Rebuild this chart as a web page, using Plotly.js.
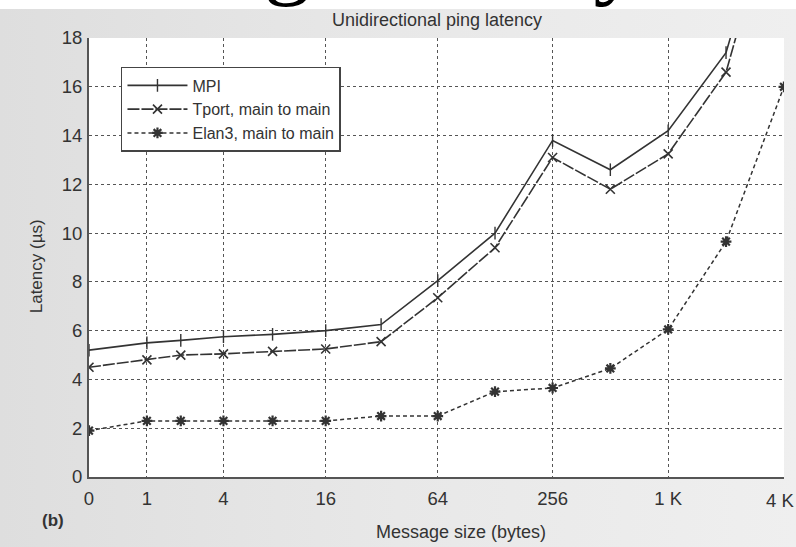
<!DOCTYPE html>
<html>
<head>
<meta charset="utf-8">
<script src="https://cdn.plot.ly/plotly-3.0.1.min.js"></script>
<style>
  html, body { margin:0; padding:0; background:#ffffff; overflow:hidden; }
  #wrap { position:relative; width:796px; height:547px; overflow:hidden; background:#ffffff; }
  #slidebox { position:absolute; left:0; top:0; width:796px; height:9px; overflow:hidden; z-index:1; }
  #slide { position:absolute; left:137px; top:-92px; font-family:"Liberation Serif","Times New Roman",serif; font-size:95px; color:#000; white-space:nowrap; line-height:1; }
  #panel { position:absolute; left:0; top:9px; width:796px; height:538px; z-index:2; background:linear-gradient(to right,#dedede 0%,#e8e8e8 50%,#efefef 100%); }
  #chart { position:absolute; left:0; top:0; width:796px; height:547px; z-index:3; }
</style>
</head>
<body>
<div id="wrap">
  <div id="slidebox"><div id="slide">Ping Latency</div></div>
  <div id="panel"></div>
  <div id="chart"></div>
</div>
<script>
// Message sizes (bytes) and latencies (µs)
const sizes = [0, 1, 2, 4, 8, 16, 32, 64, 128, 256, 512, 1024, 2048, 4096];
const mpi   = [5.2, 5.5, 5.6, 5.75, 5.85, 6.0, 6.25, 8.05, 10.0, 13.8, 12.6, 14.2, 17.4, 25.5];
const tport = [4.5, 4.8, 5.0, 5.05, 5.15, 5.25, 5.55, 7.35, 9.4, 13.1, 11.8, 13.25, 16.6, 25.0];
const elan3 = [1.9, 2.3, 2.3, 2.3, 2.3, 2.3, 2.5, 2.5, 3.5, 3.65, 4.45, 6.05, 9.65, 16.0];
const seriesNames = ["MPI", "Tport, main to main", "Elan3, main to main"];
const tickSizes = [0, 1, 4, 16, 64, 256, 1024, 4096];
const tickLabels = ["0", "1", "4", "16", "64", "256", "1 K", "4 K"];
const yTicks = [0, 2, 4, 6, 8, 10, 12, 14, 16, 18];

// log axis of (size + 1) so that size 0 can be placed
const xs = sizes.map(s => s + 1);
const xt = tickSizes.map(s => s + 1);
// last label sits at the right edge: draw it as an annotation pulled slightly inward
const lastIdx = tickLabels.length - 1;
const axisLabels = tickLabels.map((t, i) => (i === lastIdx ? '' : t));

const FONT = '"Liberation Sans Narrow","Arial Narrow","Liberation Sans",Arial,sans-serif';
const INK = '#333333';

const traces = [
  { x: xs, y: mpi, name: seriesNames[0], mode: 'lines+markers',
    line: { color: INK, width: 1.6 },
    marker: { symbol: 'line-ns-open', size: 9, color: INK, line: { color: INK, width: 1.4 } } },
  { x: xs, y: tport, name: seriesNames[1], mode: 'lines+markers',
    line: { color: INK, width: 1.6, dash: '12px,2px' },
    marker: { symbol: 'x-thin-open', size: 9, color: INK, line: { color: INK, width: 1.6 } } },
  { x: xs, y: elan3, name: seriesNames[2], mode: 'lines+markers',
    line: { color: INK, width: 1.5, dash: '4px,3px' },
    marker: { symbol: 'asterisk-open', size: 9, color: INK, line: { color: INK, width: 2.2 } } }
];

const layout = {
  width: 796, height: 547,
  margin: { l: 89, r: 12, t: 38, b: 70 },
  paper_bgcolor: 'rgba(0,0,0,0)',
  plot_bgcolor: '#ffffff',
  font: { family: FONT, color: INK, size: 18 },
  showlegend: true,
  legend: {
    x: 0.046, y: 0.934, xanchor: 'left', yanchor: 'top',
    bgcolor: '#ffffff', bordercolor: '#444444', borderwidth: 1.5,
    font: { family: FONT, size: 16, color: INK },
    itemwidth: 60, tracegroupgap: 0
  },
  xaxis: {
    type: 'log', range: [0, Math.log10(4097) + 0.0004],
    tickvals: xt, ticktext: axisLabels,
    showgrid: true, gridcolor: '#555555', griddash: 'dot', gridwidth: 1,
    showline: true, linecolor: '#555555', linewidth: 2,
    ticks: '', ticklabelstandoff: 4, ticklabeloverflow: 'allow',
    tickfont: { family: FONT, size: 18.5, color: INK },
    zeroline: false, fixedrange: true
  },
  yaxis: {
    range: [0, 18], tickvals: yTicks,
    showgrid: true, gridcolor: '#555555', griddash: 'dot', gridwidth: 1,
    showline: true, linecolor: '#555555', linewidth: 2,
    ticks: '', ticklabelstandoff: 1,
    tickfont: { family: FONT, size: 18.5, color: INK },
    zeroline: false, fixedrange: true
  },
  annotations: [
    { text: tickLabels[lastIdx], xref: 'x', yref: 'paper',
      x: Math.log10(xt[lastIdx]), xshift: 11, y: 0, yshift: -23,
      xanchor: 'right', yanchor: 'middle', showarrow: false, borderpad: 0,
      font: { family: FONT, size: 18.5, color: INK } },
    { text: 'Unidirectional ping latency', xref: 'paper', yref: 'paper',
      x: 0.50, y: 1.0, yshift: 18, xanchor: 'center', yanchor: 'middle', showarrow: false,
      font: { family: FONT, size: 18, color: INK } },
    { text: 'Message size (bytes)', xref: 'paper', yref: 'paper',
      x: 0.535, y: 0, yshift: -55, xanchor: 'center', yanchor: 'middle', showarrow: false,
      font: { family: FONT, size: 18, color: INK } },
    { text: 'Latency (µs)', xref: 'paper', yref: 'paper',
      x: 0, xshift: -53, y: 0.48, xanchor: 'center', yanchor: 'middle', textangle: -90, showarrow: false,
      font: { family: FONT, size: 17, color: INK } },
    { text: '<b>(b)</b>', xref: 'paper', yref: 'paper',
      x: 0, xshift: -36, y: 0, yshift: -43, xanchor: 'center', yanchor: 'middle', showarrow: false,
      font: { family: FONT, size: 17, color: INK } }
  ]
};

Plotly.newPlot('chart', traces, layout, { displayModeBar: false, staticPlot: true });
</script>
</body>
</html>
